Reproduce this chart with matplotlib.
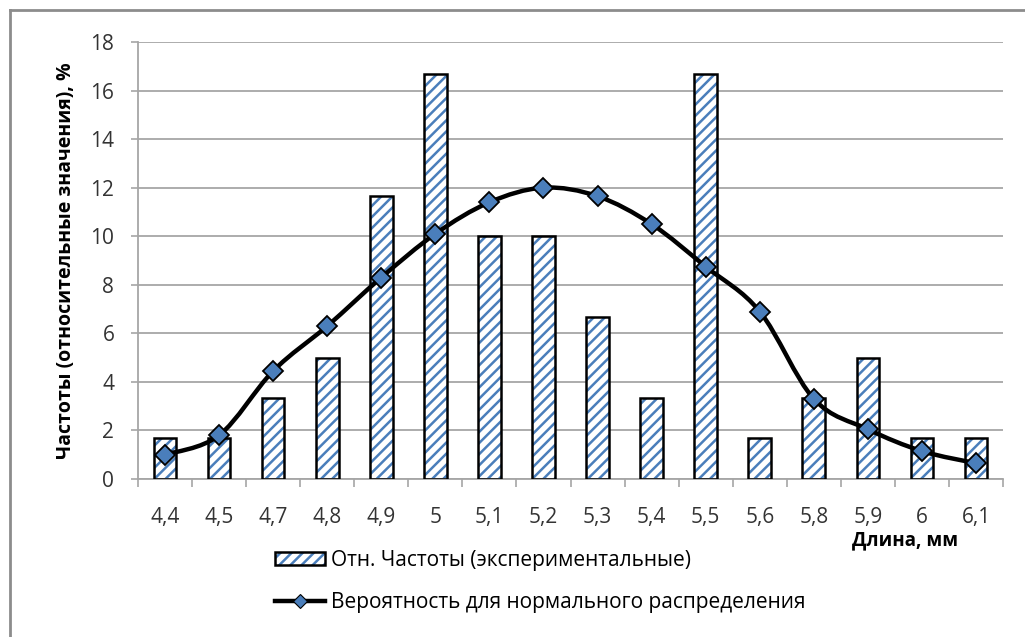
import matplotlib
matplotlib.use('Agg')
import matplotlib.pyplot as plt
import numpy as np
from matplotlib.path import Path
from matplotlib.patches import PathPatch, Patch
from matplotlib.lines import Line2D
from matplotlib.legend_handler import HandlerTuple

lengths = ['4,4', '4,5', '4,7', '4,8', '4,9', '5', '5,1', '5,2', '5,3', '5,4',
           '5,5', '5,6', '5,8', '5,9', '6', '6,1']
rel_freq = [1.67, 1.67, 3.33, 5.0, 11.67, 16.67, 10.0, 10.0, 6.67, 3.33,
            16.67, 1.67, 3.33, 5.0, 1.67, 1.67]
normal_prob = [1.0, 1.8, 4.45, 6.3, 8.3, 10.1, 11.4, 12.0, 11.65, 10.5,
               8.75, 6.9, 3.3, 2.05, 1.15, 0.65]

plt.rcParams['font.family'] = ['Open Sans', 'DejaVu Sans']
plt.rcParams['hatch.linewidth'] = 1.8

BLUE = '#4a7ebb'
GRID = '#a6a6a6'


def smooth_path(xs, ys, k=6.0):
    # Bezier curve through the points, same style as office "smoothed line"
    pts = np.column_stack([xs, ys]).astype(float)
    n = len(pts)
    verts = [pts[0]]
    codes = [Path.MOVETO]
    for i in range(n - 1):
        p0 = pts[i - 1] if i > 0 else pts[i]
        p1 = pts[i]
        p2 = pts[i + 1]
        p3 = pts[i + 2] if i + 2 < n else pts[i + 1]
        verts += [p1 + (p2 - p0) / k, p2 - (p3 - p1) / k, p2]
        codes += [Path.CURVE4] * 3
    return Path(verts, codes)


fig = plt.figure(figsize=(10.25, 6.37), dpi=100)
ax = fig.add_axes([0.1346, 0.248, 0.844, 0.686])

x = np.arange(len(lengths))
width = 0.42
hatched = ax.bar(x, rel_freq, width, color='white', edgecolor=BLUE,
                 hatch='///', linewidth=0, zorder=2)
outline = ax.bar(x, rel_freq, width, fill=False, edgecolor='black',
                 linewidth=1.8, zorder=3)

curve = PathPatch(smooth_path(x, normal_prob), facecolor='none',
                  edgecolor='black', linewidth=3.2, zorder=4,
                  capstyle='round', joinstyle='round')
ax.add_patch(curve)
ax.plot(x, normal_prob, linestyle='none', marker='D', markersize=10.5,
        markerfacecolor=BLUE, markeredgecolor='black', markeredgewidth=1.3,
        zorder=5)

ax.set_xlim(-0.5, len(lengths) - 0.5)
ax.set_ylim(0, 18)
ax.set_yticks(np.arange(0, 19, 2))
ax.set_xticks(x)
ax.set_xticklabels(lengths)
ax.set_xticks(np.arange(-0.5, len(lengths), 1), minor=True)
ax.tick_params(axis='x', which='major', length=0, pad=20, labelsize=15,
               labelcolor='#333333')
ax.tick_params(axis='x', which='minor', length=6, width=1.2, color=GRID,
               direction='out')
ax.tick_params(axis='y', length=5, width=1.2, color=GRID, pad=12,
               labelsize=15, labelcolor='#333333')

ax.grid(axis='y', color=GRID, linewidth=1.3, zorder=0)
ax.set_axisbelow(True)
for side in ('top', 'right'):
    ax.spines[side].set_visible(False)
for side in ('left', 'bottom'):
    ax.spines[side].set_color(GRID)
    ax.spines[side].set_linewidth(1.3)

ax.set_ylabel('Частоты (относительные значения), %', fontsize=14,
              fontweight='bold', labelpad=10)
fig.text(0.8825, 0.151, 'Длина, мм', fontsize=13.5, fontweight='bold',
         ha='center', va='center')

bar_handle = (Patch(facecolor='white', edgecolor=BLUE, hatch='///', linewidth=0),
              Patch(fill=False, edgecolor='black', linewidth=1.8))
line_handle = Line2D([], [], color='black', linewidth=3.2, marker='D',
                     markersize=7, markerfacecolor=BLUE,
                     markeredgecolor='black', markeredgewidth=0.8)
fig.legend([bar_handle, line_handle],
           ['Отн. Частоты (экспериментальные)',
            'Вероятность для нормального распределения'],
           handler_map={tuple: HandlerTuple(ndivide=1, pad=0)},
           loc='upper left', bbox_to_anchor=(0.268, 0.137), frameon=False,
           fontsize=15, handlelength=2.4, handleheight=0.55,
           handletextpad=0.3, labelspacing=1.0, borderaxespad=0, borderpad=0)

# outer chart frame (top and left edges)
fig.add_artist(Line2D([0.0098, 1.0], [0.984, 0.984], color='#8c8c8c',
                      linewidth=2, transform=fig.transFigure))
fig.add_artist(Line2D([0.0098, 0.0098], [0.0, 0.984], color='#8c8c8c',
                      linewidth=2, transform=fig.transFigure))

fig.savefig('out.png', dpi=100)
plt.close(fig)
